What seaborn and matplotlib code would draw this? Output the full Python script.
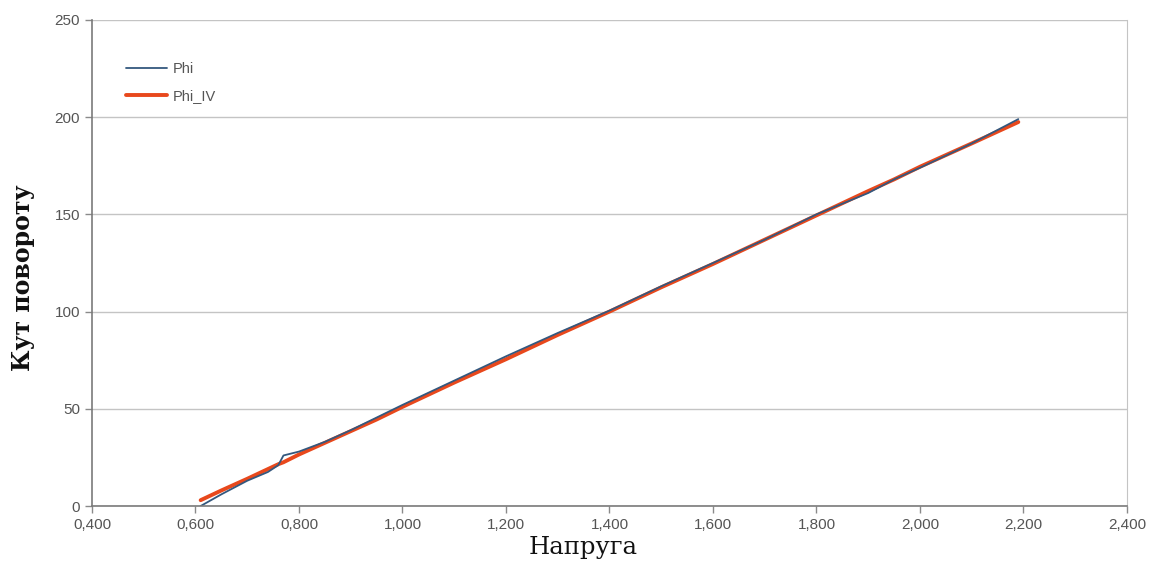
import pandas as pd
import seaborn as sns
import matplotlib.pyplot as plt
from matplotlib.ticker import FuncFormatter

# values
voltage = [0.610, 0.650, 0.700, 0.740, 0.760, 0.770, 0.800, 0.850, 0.900, 0.950,
           1.000, 1.100, 1.200, 1.300, 1.400, 1.500, 1.600, 1.700, 1.800,
           1.900, 1.950, 2.000, 2.100, 2.190]
phi = [0.0, 6.0, 13.0, 17.5, 21.0, 26.0, 28.0, 33.0, 39.0, 45.5,
       52.0, 64.5, 77.0, 89.0, 100.5, 113.0, 125.0, 137.0, 150.0,
       161.0, 168.0, 174.0, 186.5, 199.0]
phi_iv = [3.0, 8.0, 14.0, 19.0, 21.5, 22.5, 26.5, 32.5, 38.5, 44.5,
          51.0, 63.5, 75.5, 88.0, 100.0, 112.5, 124.5, 137.0, 149.5,
          162.0, 168.0, 174.5, 186.5, 197.5]

data = pd.DataFrame({"Напруга": voltage, "Phi": phi, "Phi_IV": phi_iv})

sns.set_style("white")
plt.rcParams["font.family"] = ["Liberation Sans", "DejaVu Sans"]
fig = plt.figure(figsize=(11.54, 5.69), dpi=100)
ax = fig.add_axes([0.0797, 0.1107, 0.8969, 0.8542])

sns.lineplot(data=data, x="Напруга", y="Phi_IV", color="#e8481c", linewidth=2.8, label="Phi_IV", ax=ax)
sns.lineplot(data=data, x="Напруга", y="Phi", color="#34587e", linewidth=1.3, label="Phi", ax=ax)

ax.set_xlim(0.4, 2.4)
ax.set_ylim(0, 250)
ax.set_xticks([0.4 + 0.2 * i for i in range(11)])
ax.set_yticks([0, 50, 100, 150, 200, 250])
ax.xaxis.set_major_formatter(FuncFormatter(lambda v, p: f"{v:.3f}".replace(".", ",")))
ax.yaxis.grid(True, color="#c4c4c4", linewidth=1)
ax.xaxis.grid(False)
for side in ["left", "bottom"]:
    ax.spines[side].set_color("#7a7a7a")
    ax.spines[side].set_linewidth(1.2)
ax.spines["top"].set_visible(False)
ax.spines["right"].set_color("#c4c4c4")
ax.tick_params(axis="both", direction="out", length=5, width=1, color="#8a8a8a",
               labelcolor="#555555", labelsize=11, bottom=True, left=True)

ax.set_xlabel("Напруга", fontsize=17.5, family="DejaVu Serif", color="#111111")
ax.set_ylabel("Кут повороту", fontsize=17, family="DejaVu Serif", fontweight="bold", color="#111111")
ax.xaxis.set_label_coords(0.475, -0.062)
ax.yaxis.set_label_coords(-0.055, 0.47)

handles, labels = ax.get_legend_handles_labels()
order = [labels.index("Phi"), labels.index("Phi_IV")]
leg = ax.legend([handles[i] for i in order], [labels[i] for i in order],
                loc="upper left", bbox_to_anchor=(0.02, 0.94), frameon=False,
                fontsize=10.5, handlelength=2.8, handletextpad=0.4, labelspacing=0.9)
for t in leg.get_texts():
    t.set_color("#555555")

fig.savefig("out.png", dpi=100)
